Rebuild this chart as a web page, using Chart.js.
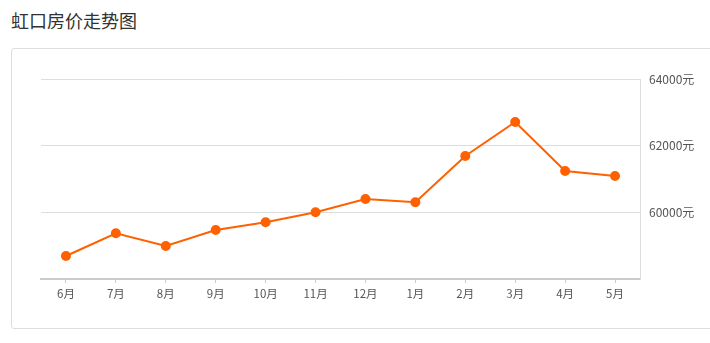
<!DOCTYPE html>
<html>
<head>
<meta charset="utf-8">
<script src="https://cdn.jsdelivr.net/npm/chart.js@4/dist/chart.umd.min.js"></script>
<style>
  html, body { margin: 0; padding: 0; background: #fff; }
  body { width: 710px; height: 343px; position: relative; overflow: hidden; font-family: "Noto Sans CJK SC", sans-serif; }
  #title { position: absolute; left: 11px; top: 7px; font-size: 18px; color: #333; line-height: 26px; }
  #card { position: absolute; left: 11px; top: 48px; width: 720px; height: 279px; border: 1px solid #ddd; border-radius: 3px; }
  #wrap { position: absolute; left: 0; top: 0; width: 710px; height: 343px; }
</style>
</head>
<body>
<div id="title">虹口房价走势图</div>
<div id="card"></div>
<div id="wrap"><canvas id="c" width="710" height="343"></canvas></div>
<script>
const categories = ["6月","7月","8月","9月","10月","11月","12月","1月","2月","3月","4月","5月"];
const prices = [58690, 59370, 58990, 59470, 59700, 60000, 60400, 60300, 61690, 62710, 61240, 61090];
const yTicks = [58000, 60000, 62000, 64000];
const unit = "元";

new Chart(document.getElementById('c'), {
  type: 'line',
  data: {
    labels: categories,
    datasets: [{
      data: prices,
      borderColor: '#ff6000',
      backgroundColor: '#ff6000',
      borderWidth: 2,
      pointRadius: 4,
      pointHoverRadius: 4,
      tension: 0,
      fill: false
    }]
  },
  options: {
    responsive: false,
    animation: false,
    layout: { padding: { left: 41, top: 79, right: 0, bottom: 34 } },
    plugins: { legend: { display: false }, tooltip: { enabled: false }, title: { display: false } },
    scales: {
      x: {
        offset: true,
        grid: { display: true, drawOnChartArea: false, drawTicks: true, tickLength: 4, offset: false, color: '#ccc' },
        border: { display: true, color: '#ccc', width: 2 },
        ticks: { color: '#555', font: { size: 11.5, family: '"Noto Sans CJK SC", sans-serif' }, padding: 4, maxRotation: 0, autoSkip: false },
        afterFit: s => { s.height = 30; }
      },
      y: {
        position: 'right',
        min: 58000,
        max: 64000,
        afterBuildTicks: s => { s.ticks = yTicks.map(v => ({ value: v })); },
        grid: { color: '#ddd', lineWidth: 1, drawTicks: false },
        border: { display: true, color: '#ddd', width: 1 },
        ticks: {
          color: '#555',
          font: { size: 12, family: '"Noto Sans CJK SC", sans-serif' },
          padding: 9,
          callback: v => v === 58000 ? '' : v + unit
        },
        afterFit: s => { s.width = 70; }
      }
    }
  }
});
</script>
</body>
</html>
